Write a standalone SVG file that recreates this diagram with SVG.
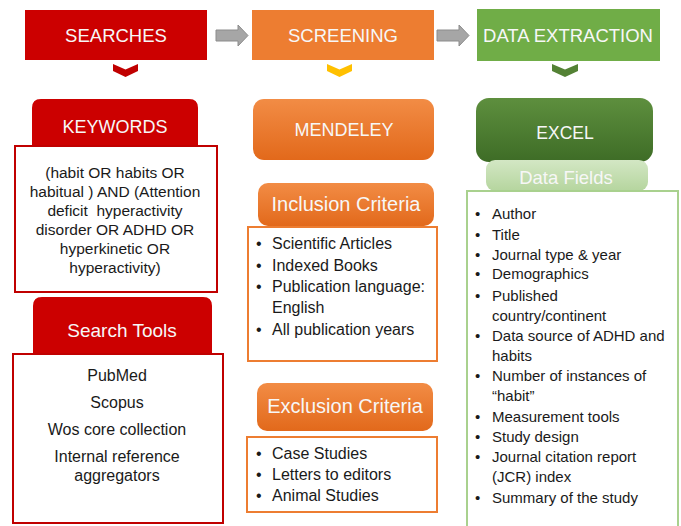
<svg xmlns="http://www.w3.org/2000/svg" width="681" height="526" viewBox="0 0 681 526">
<defs>
<linearGradient id="gOr" x1="0" y1="0" x2="0" y2="1"><stop offset="0" stop-color="#f28c45"/><stop offset="1" stop-color="#e2691b"/></linearGradient>
<linearGradient id="gDg" x1="0" y1="0" x2="0" y2="1"><stop offset="0" stop-color="#5e8f3e"/><stop offset="1" stop-color="#3e6c26"/></linearGradient>
<linearGradient id="gLg" x1="0" y1="0" x2="0" y2="1"><stop offset="0" stop-color="#d3e7c4"/><stop offset="1" stop-color="#b5d59e"/></linearGradient>
<style>
text{font-family:"Liberation Sans",Arial,sans-serif}
.hd{fill:#f7f7f7;font-size:18.5px;text-anchor:middle}
.tb{fill:#f7f7f7;text-anchor:middle}
.bx{fill:#ffffff;stroke-width:2}
.red{stroke:#c00000}
.or{stroke:#ed7d31}
.gr{stroke:#a9d18e}
.t{fill:#1a1a1a}
.c{text-anchor:middle}
.arr{fill:#a6a6a6;stroke:#8c8c8c;stroke-width:1}
</style>
</defs>
<rect width="681" height="526" fill="#ffffff"/>

<g id="connectors">
<path class="arr" d="M216,30 H238 V25 L248,35.5 L238,46 V41 H216 Z"/>
<path class="arr" d="M437,30 H459 V25 L469,35.5 L459,46 V41 H437 Z"/>
<path d="M113,64 L125.5,69.5 L138,64 L138,71 L125.5,77 L113,71 Z" fill="#c00000"/>
<path d="M327,64 L339.5,69.5 L352,64 L352,71 L339.5,77 L327,71 Z" fill="#ffc000"/>
<path d="M552,64 L565,69.5 L578,64 L578,71 L565,77 L552,71 Z" fill="#548235"/>
</g>

<g id="searches">
<rect x="25" y="10" width="182" height="50" fill="#cc0000"/>
<text class="hd" x="116" y="41.5">SEARCHES</text>
</g>
<g id="screening">
<rect x="252" y="10" width="182" height="50" fill="#ed7d31"/>
<text class="hd" x="343" y="41.5">SCREENING</text>
</g>
<g id="data-extraction">
<rect x="477" y="9" width="183" height="52" fill="#70ad47"/>
<text class="hd" x="568" y="41.5" font-size="18">DATA EXTRACTION</text>
</g>

<g id="keywords">
<path d="M32,152 V108 Q32,99 41,99 H189 Q198,99 198,108 V152 Z" fill="#f4c7c7"/>
<path d="M32,146 V108 Q32,99 41,99 H189 Q198,99 198,108 V146 Z" fill="#cc0000"/>
<text class="tb" x="115" y="132.5" font-size="18">KEYWORDS</text>
<rect class="bx red" x="15" y="146" width="202" height="146"/>
<g class="t c" font-size="15.5">
<text x="115" y="177.5">(habit OR habits OR</text>
<text x="115" y="196.5">habitual ) AND (Attention</text>
<text x="115" y="215.5" xml:space="preserve">deficit  hyperactivity</text>
<text x="115" y="234.5">disorder OR ADHD OR</text>
<text x="115" y="253.5">hyperkinetic OR</text>
<text x="115" y="272.5">hyperactivity)</text>
</g>
</g>

<g id="search-tools">
<path d="M33,360 V306 Q33,297 42,297 H203 Q212,297 212,306 V360 Z" fill="#f4c7c7"/>
<path d="M33,354 V306 Q33,297 42,297 H203 Q212,297 212,306 V354 Z" fill="#cc0000"/>
<text class="tb" x="122" y="337" font-size="19">Search Tools</text>
<rect class="bx red" x="13" y="354" width="210" height="169"/>
<g class="t c" font-size="16">
<text x="117" y="380.5">PubMed</text>
<text x="117" y="407.5">Scopus</text>
<text x="117" y="434.5">Wos core collection</text>
<text x="117" y="461.5">Internal reference</text>
<text x="117" y="480.5">aggregators</text>
</g>
</g>

<g id="mendeley">
<rect x="253" y="99" width="181" height="61" rx="11" fill="url(#gOr)"/>
<text class="tb" x="344" y="136" font-size="18">MENDELEY</text>
</g>

<g id="inclusion">
<rect x="258" y="183" width="176" height="43" rx="10" fill="url(#gOr)"/>
<text class="tb" x="346" y="211" font-size="20">Inclusion Criteria</text>
<rect class="bx or" x="248" y="227" width="189" height="134"/>
<g class="t" font-size="16">
<text x="256" y="248.5">•</text><text x="272" y="248.5">Scientific Articles</text>
<text x="256" y="270.5">•</text><text x="272" y="270.5">Indexed Books</text>
<text x="256" y="291.5">•</text><text x="272" y="291.5">Publication language:</text>
<text x="272" y="312.5">English</text>
<text x="256" y="334.5">•</text><text x="272" y="334.5">All publication years</text>
</g>
</g>

<g id="exclusion">
<rect x="257" y="383" width="176" height="48" rx="10" fill="url(#gOr)"/>
<text class="tb" x="345" y="413" font-size="20">Exclusion Criteria</text>
<rect class="bx or" x="247" y="437" width="190" height="75"/>
<g class="t" font-size="16">
<text x="256" y="458.5">•</text><text x="272" y="458.5">Case Studies</text>
<text x="256" y="479.5">•</text><text x="272" y="479.5">Letters to editors</text>
<text x="256" y="500.5">•</text><text x="272" y="500.5">Animal Studies</text>
</g>
</g>

<g id="excel">
<rect x="476" y="98" width="177" height="64" rx="13" fill="url(#gDg)"/>
<text class="tb" x="565" y="139" font-size="17.5">EXCEL</text>
</g>

<g id="data-fields">
<rect x="486" y="160" width="162" height="31" rx="9" fill="url(#gLg)"/>
<text class="tb" x="566" y="183.5" font-size="18.5" fill="#f4f8f0">Data Fields</text>
<rect class="bx gr" x="467" y="191" width="211" height="340"/>
<g class="t" font-size="15">
<text x="475" y="218.5">•</text><text x="492" y="218.5">Author</text>
<text x="475" y="239.5">•</text><text x="492" y="239.5">Title</text>
<text x="475" y="259.5">•</text><text x="492" y="259.5">Journal type &amp; year</text>
<text x="475" y="278.5">•</text><text x="492" y="278.5">Demographics</text>
<text x="475" y="300.5">•</text><text x="492" y="300.5">Published</text>
<text x="492" y="320.5">country/continent</text>
<text x="475" y="340.5">•</text><text x="492" y="340.5">Data source of ADHD and</text>
<text x="492" y="360.5">habits</text>
<text x="475" y="380.5">•</text><text x="492" y="380.5">Number of instances of</text>
<text x="492" y="400.5">“habit”</text>
<text x="475" y="421.5">•</text><text x="492" y="421.5">Measurement tools</text>
<text x="475" y="441.5">•</text><text x="492" y="441.5">Study design</text>
<text x="475" y="461.5">•</text><text x="492" y="461.5">Journal citation report</text>
<text x="492" y="481.5">(JCR) index</text>
<text x="475" y="502.5">•</text><text x="492" y="502.5">Summary of the study</text>
</g>
</g>
</svg>
